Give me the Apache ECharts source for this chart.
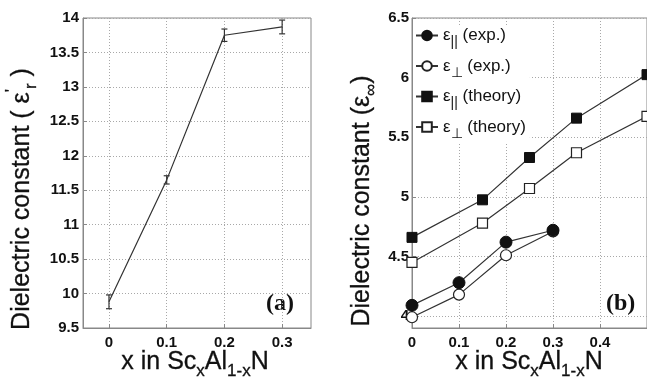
<!DOCTYPE html>
<html>
<head>
<meta charset="utf-8">
<script src="https://cdn.jsdelivr.net/npm/echarts@6/dist/echarts.min.js"></script>
<style>
  html, body { margin: 0; padding: 0; background: #fff; }
  #chart { width: 647px; height: 377px; }
</style>
</head>
<body>
<div id="chart"></div>
<script>
// (a) measured static dielectric constant
const xA = [0, 0.1, 0.2, 0.3];
const epsA = [9.88, 11.65, 13.75, 13.87];
const errA = [0.1, 0.06, 0.09, 0.1];

// (b) high-frequency dielectric constant
const xExp = [0, 0.1, 0.2, 0.3];
const parExp = [4.09, 4.28, 4.62, 4.72];
const perpExp = [3.99, 4.18, 4.51, 4.71];
const xTheory = [0, 0.15, 0.25, 0.35, 0.5];
const parTheory = [4.66, 4.975, 5.33, 5.66, 6.025];
const perpTheory = [4.45, 4.78, 5.07, 5.37, 5.675];

const ticksXA = [0, 0.1, 0.2, 0.3];
const ticksYB = [4, 4.5, 5, 5.5, 6, 6.5];

const font = 'Liberation Sans, Arial, sans-serif';
const pair = (xs, ys) => xs.map((x, i) => [x, ys[i]]);

const chart = echarts.init(document.getElementById('chart'));

const gridLine = { show: true, lineStyle: { color: '#a8a8a8', type: [1, 2], width: 1 } };
const axLine = { show: true, onZero: false, lineStyle: { color: '#888', width: 1 } };
const tickLbl = { color: '#111', fontFamily: font, fontSize: 15, fontWeight: 'bold' };
const titleRich = {
  sub: { font: '17px ' + font, fill: '#111', verticalAlign: 'bottom', lineHeight: 36 },
  sup: { font: '17px ' + font, fill: '#111', verticalAlign: 'top', lineHeight: 36 }
};
const titleText = (x, y, rot, text) => ({
  type: 'text', x: x, y: y, rotation: rot,
  style: { text: text, font: '25px ' + font, fill: '#111', stroke: '#111', lineWidth: 0.3,
    align: 'center', verticalAlign: 'middle', rich: titleRich }
});

chart.setOption({
  animation: false,
  backgroundColor: '#fff',
  grid: [
    { left: 83, top: 18, right: 336, bottom: 49, show: true, borderColor: '#888', borderWidth: 1 },
    { left: 412, top: 18, right: -1, bottom: 49, show: true, borderColor: '#888', borderWidth: 1 }
  ],
  xAxis: [
    {
      gridIndex: 0, type: 'value', min: -0.045, max: 0.35,
      axisLine: axLine,
      axisTick: { show: true, inside: true, length: 4, customValues: ticksXA, lineStyle: { color: '#888' } },
      axisLabel: Object.assign({ customValues: ticksXA, margin: 7 }, tickLbl),
      splitLine: gridLine
    },
    {
      gridIndex: 1, type: 'value', min: 0, max: 0.5, interval: 0.1,
      axisLine: axLine,
      axisTick: { show: true, inside: true, length: 4, lineStyle: { color: '#888' } },
      axisLabel: Object.assign({ margin: 7, showMaxLabel: false }, tickLbl),
      splitLine: gridLine
    }
  ],
  yAxis: [
    {
      gridIndex: 0, type: 'value', min: 9.5, max: 14, interval: 0.5,
      axisLine: axLine,
      axisTick: { show: true, inside: true, length: 4, lineStyle: { color: '#888' } },
      axisLabel: Object.assign({ margin: 4 }, tickLbl),
      splitLine: gridLine
    },
    {
      gridIndex: 1, type: 'value', min: 3.9, max: 6.5,
      axisLine: axLine,
      axisTick: { show: true, inside: true, length: 4, customValues: ticksYB, lineStyle: { color: '#888' } },
      axisLabel: Object.assign({ customValues: ticksYB, margin: 3 }, tickLbl),
      splitLine: gridLine
    }
  ],
  legend: {
    orient: 'vertical', left: 413, top: 25, itemGap: 8, itemWidth: 22, itemHeight: 12,
    backgroundColor: '#fff', padding: [2, 4, 2, 2],
    textStyle: {
      color: '#111', fontFamily: font, fontSize: 17,
      rich: { sub: { fontFamily: font, fontSize: 14, color: '#111', verticalAlign: 'bottom', lineHeight: 28 } }
    },
    formatter: function (n) {
      const m = { par_e: 'ε{sub|||} (exp.)', perp_e: 'ε{sub|⊥} (exp.)', par_t: 'ε{sub|||} (theory)', perp_t: 'ε{sub|⊥} (theory)' };
      return m[n];
    },
    data: ['par_e', 'perp_e', 'par_t', 'perp_t']
  },
  graphic: [
    titleText(22, 199, Math.PI / 2, "Dielectric constant ( ε{sup|'}{sub|r} )"),
    titleText(362, 201, Math.PI / 2, 'Dielectric constant (ε{sub|∞})'),
    titleText(195, 362, 0, 'x in Sc{sub|x}Al{sub|1-x}N'),
    titleText(529, 362, 0, 'x in Sc{sub|x}Al{sub|1-x}N'),
    { type: 'text', left: 266, top: 292, style: { text: '(a)', font: 'bold 24px "Liberation Serif", serif', fill: '#111' } },
    { type: 'text', left: 606, top: 292, style: { text: '(b)', font: 'bold 24px "Liberation Serif", serif', fill: '#111' } }
  ],
  series: [
    {
      type: 'line', xAxisIndex: 0, yAxisIndex: 0, data: pair(xA, epsA),
      symbol: 'none', lineStyle: { color: '#333', width: 1.2 }, silent: true
    },
    {
      type: 'custom', xAxisIndex: 0, yAxisIndex: 0,
      data: xA.map((x, i) => [x, epsA[i] - errA[i], epsA[i] + errA[i]]),
      renderItem: function (params, api) {
        const lo = api.coord([api.value(0), api.value(1)]);
        const hi = api.coord([api.value(0), api.value(2)]);
        const w = 3;
        const st = { stroke: '#333', lineWidth: 1.2 };
        return { type: 'group', children: [
          { type: 'line', shape: { x1: lo[0], y1: lo[1], x2: hi[0], y2: hi[1] }, style: st },
          { type: 'line', shape: { x1: lo[0] - w, y1: lo[1], x2: lo[0] + w, y2: lo[1] }, style: st },
          { type: 'line', shape: { x1: hi[0] - w, y1: hi[1], x2: hi[0] + w, y2: hi[1] }, style: st }
        ] };
      }
    },
    {
      name: 'perp_t', type: 'line', xAxisIndex: 1, yAxisIndex: 1, data: pair(xTheory, perpTheory),
      symbol: 'rect', symbolSize: 10, itemStyle: { color: '#fff', borderColor: '#222', borderWidth: 1.2 },
      lineStyle: { color: '#333', width: 1.2 }
    },
    {
      name: 'par_t', type: 'line', xAxisIndex: 1, yAxisIndex: 1, data: pair(xTheory, parTheory),
      symbol: 'rect', symbolSize: 10, itemStyle: { color: '#111', borderColor: '#111', borderWidth: 1 },
      lineStyle: { color: '#333', width: 1.2 }
    },
    {
      name: 'perp_e', type: 'line', xAxisIndex: 1, yAxisIndex: 1, data: pair(xExp, perpExp),
      symbol: 'circle', symbolSize: 11, itemStyle: { color: '#fff', borderColor: '#222', borderWidth: 1.2 },
      lineStyle: { color: '#333', width: 1.2 }
    },
    {
      name: 'par_e', type: 'line', xAxisIndex: 1, yAxisIndex: 1, data: pair(xExp, parExp),
      symbol: 'circle', symbolSize: 12, itemStyle: { color: '#111', borderColor: '#111', borderWidth: 1 },
      lineStyle: { color: '#333', width: 1.2 }
    }
  ]
});
</script>
</body>
</html>
